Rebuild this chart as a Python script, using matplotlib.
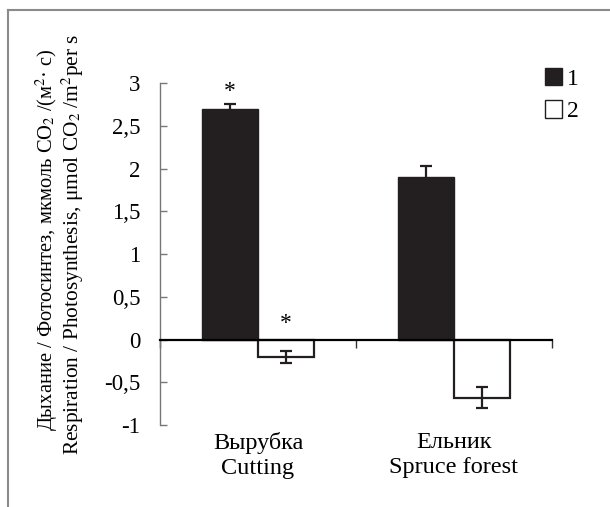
import numpy as np
import matplotlib
matplotlib.use("Agg")
import matplotlib.pyplot as plt
from matplotlib.lines import Line2D
from matplotlib.patches import Patch

plt.rcParams['font.family'] = ['Liberation Serif', 'DejaVu Serif']
plt.rcParams['mathtext.fontset'] = 'stix'

# data
sites = ['Вырубка\nCutting', 'Ельник\nSpruce forest']
resp = [2.70, 1.90]        # series 1 (black)
resp_err = [0.05, 0.13]
photo = [-0.20, -0.68]     # series 2 (white)
photo_err = [0.07, 0.12]
yticks = [3, 2.5, 2, 1.5, 1, 0.5, 0, -0.5, -1]
ytick_labels = ['3', '2,5', '2', '1,5', '1', '0,5', '0', '-0,5', '-1']
series_names = ['1', '2']
ylabel_ru = 'Дыхание / Фотосинтез, мкмоль CO$_2$ /(м$^2$· c)'
ylabel_en = 'Respiration / Photosynthesis, μmol CO$_2$ /m$^2$per s'

fig = plt.figure(figsize=(6.1, 5.07), dpi=100)
ax = fig.add_axes([0.2623, 0.1617, 0.6426, 0.6746])

x = np.arange(len(sites))
w = 0.288
ax.bar(x - w/2, resp, w, color='#231f20', edgecolor='#231f20', zorder=2)
ax.bar(x + w/2, photo, w, color='white', edgecolor='#231f20', linewidth=1.6, zorder=2)
ax.errorbar(x - w/2, resp, yerr=resp_err, fmt='none', ecolor='#231f20',
            elinewidth=1.6, capsize=4, capthick=1.6, zorder=3)
ax.errorbar(x + w/2, photo, yerr=photo_err, fmt='none', ecolor='#231f20',
            elinewidth=1.6, capsize=4, capthick=1.6, zorder=3)

# significance marks
ax.text(x[0] - w/2, resp[0] + resp_err[0] + 0.15, '*', ha='center', va='center', fontsize=17)
ax.text(x[0] + w/2, 0.19, '*', ha='center', va='center', fontsize=17)

ax.set_xlim(-0.5, 1.5)
ax.set_ylim(-1, 3)
ax.set_yticks(yticks)
ax.set_yticklabels(ytick_labels, fontsize=16.5)
ax.tick_params(axis='y', direction='in', length=5, width=1, color='#777777', pad=14)

ax.spines['top'].set_visible(False)
ax.spines['right'].set_visible(False)
ax.spines['left'].set_color('#777777')
ax.spines['left'].set_linewidth(1)
ax.spines['bottom'].set_position(('data', 0))
ax.spines['bottom'].set_linewidth(1.6)
ax.spines['bottom'].set_zorder(4)
ax.set_xticks([-0.5, 0.5, 1.5])
ax.set_xticklabels([])
ax.tick_params(axis='x', direction='out', length=6, width=1, color='#333333')

for xi, s in zip(x, sites):
    ax.text(xi, -0.02, s, transform=ax.get_xaxis_transform(), ha='center', va='top',
            fontsize=17.5, linespacing=1.25)

fig.text(47/610, 1 - 240/507, ylabel_ru, rotation=90, ha='center', va='center', fontsize=14.8)
fig.text(73/610, 1 - 244/507, ylabel_en, rotation=90, ha='center', va='center', fontsize=15.4)

handles = [Patch(facecolor='#231f20', edgecolor='#231f20'),
           Patch(facecolor='white', edgecolor='#231f20', linewidth=1)]
fig.legend(handles, series_names, loc='upper left', bbox_to_anchor=(0.893, 0.866),
           frameon=False, fontsize=17, handlelength=0.75, handleheight=0.75,
           handletextpad=0.2, labelspacing=0.45, borderpad=0, borderaxespad=0)

# page frame (only top and left edge visible)
fig.add_artist(Line2D([8/610, 1], [1 - 10/507, 1 - 10/507], color='#8a8a8a', lw=1.5,
                      transform=fig.transFigure))
fig.add_artist(Line2D([8/610, 8/610], [0, 1 - 10/507], color='#8a8a8a', lw=1.5,
                      transform=fig.transFigure))

fig.savefig('out.png', dpi=100)
